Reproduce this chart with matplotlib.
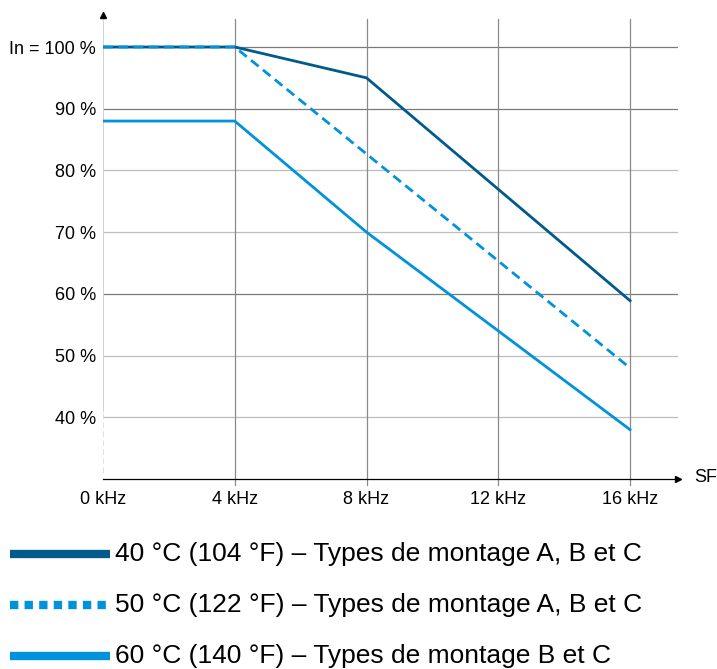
import numpy as np
import matplotlib.pyplot as plt
from matplotlib.lines import Line2D

plt.rcParams['font.family'] = ['Liberation Sans', 'DejaVu Sans']

# switching frequency (kHz) and derated current (% of In)
freq_40 = [0, 4, 8, 16]
curr_40 = [100, 100, 95, 58.9]
freq_50 = [0, 4, 16]
curr_50 = [100, 100, 48]
freq_60 = [0, 4, 8, 16]
curr_60 = [88, 88, 70, 38]

xticks = [0, 4, 8, 12, 16]
xtick_labels = ["0 kHz", "4 kHz", "8 kHz", "12 kHz", "16 kHz"]
yticks = [40, 50, 60, 70, 80, 90, 100]
ytick_labels = ["40 %", "50 %", "60 %", "70 %", "80 %", "90 %", "In = 100 %"]
legend_labels = ["40 °C (104 °F) – Types de montage A, B et C",
                 "50 °C (122 °F) – Types de montage A, B et C",
                 "60 °C (140 °F) – Types de montage B et C"]

dark = "#005a8c"
light = "#0092da"

W, H = 717, 669
fig = plt.figure(figsize=(W / 100, H / 100), dpi=100)
ax = fig.add_axes([103 / W, 1 - 479 / H, (678 - 103) / W, (479 - 15) / H])
ax.set_xlim(0, 16 * (678 - 103) / (630 - 103))
ax.set_ylim(30, 30 + 70 * (479 - 15) / (479 - 47))

for s in ax.spines.values():
    s.set_visible(False)

for y in yticks:
    ax.axhline(y, color="#7a7a7a" if y in (100, 90, 60) else "#bdbdbd", lw=0.9, zorder=1)
for x in xticks[1:]:
    ax.plot([x, x], [29, ax.get_ylim()[1] - 0.6], color="#8a8a8a", lw=0.9, zorder=1, clip_on=False)

# axes lines with arrows
ax.plot([0, 0], [41, ax.get_ylim()[1]], color="#cfcfcf", lw=1.3, zorder=1)
ax.plot([0, 0], [31, 41], color="#dcdcdc", lw=1.3, ls=(0, (3, 2)), zorder=1)
ax.plot([0], [ax.get_ylim()[1]], marker="^", color="black", ms=5, clip_on=False, zorder=5)
ax.plot([0, ax.get_xlim()[1]], [30, 30], color="black", lw=0.9, clip_on=False, zorder=3)
ax.plot([ax.get_xlim()[1]], [30], marker=">", color="black", ms=5, clip_on=False, zorder=5)
ax.text(ax.get_xlim()[1] + 0.5, 30.3, "SF", fontsize=13, va="center", ha="left")

ax.plot(freq_40, curr_40, color=dark, lw=2.0, zorder=4)
ax.plot(freq_50, curr_50, color=light, lw=2.0, ls=(0, (3.5, 2)), zorder=4)
ax.plot(freq_60, curr_60, color=light, lw=2.0, zorder=4)

ax.set_xticks(xticks)
ax.set_xticklabels(xtick_labels, fontsize=13)
ax.set_yticks(yticks)
ax.set_yticklabels(ytick_labels, fontsize=13)
ax.tick_params(length=0, pad=9)
ax.tick_params(axis="y", pad=5)

# legend
styles = [dict(color=dark, ls="-"), dict(color=light, ls=(0, (1.0, 0.75))), dict(color=light, ls="-")]
rows = [554, 605, 656]
for lab, st, yy in zip(legend_labels, styles, rows):
    yf = 1 - yy / H
    fig.add_artist(Line2D([10 / W, 110 / W], [yf, yf], lw=6, transform=fig.transFigure,
                          solid_capstyle="butt", dash_capstyle="butt", **st))
    fig.text(115 / W, yf, lab, fontsize=19, va="center", ha="left")

fig.savefig("out.png", dpi=100)
